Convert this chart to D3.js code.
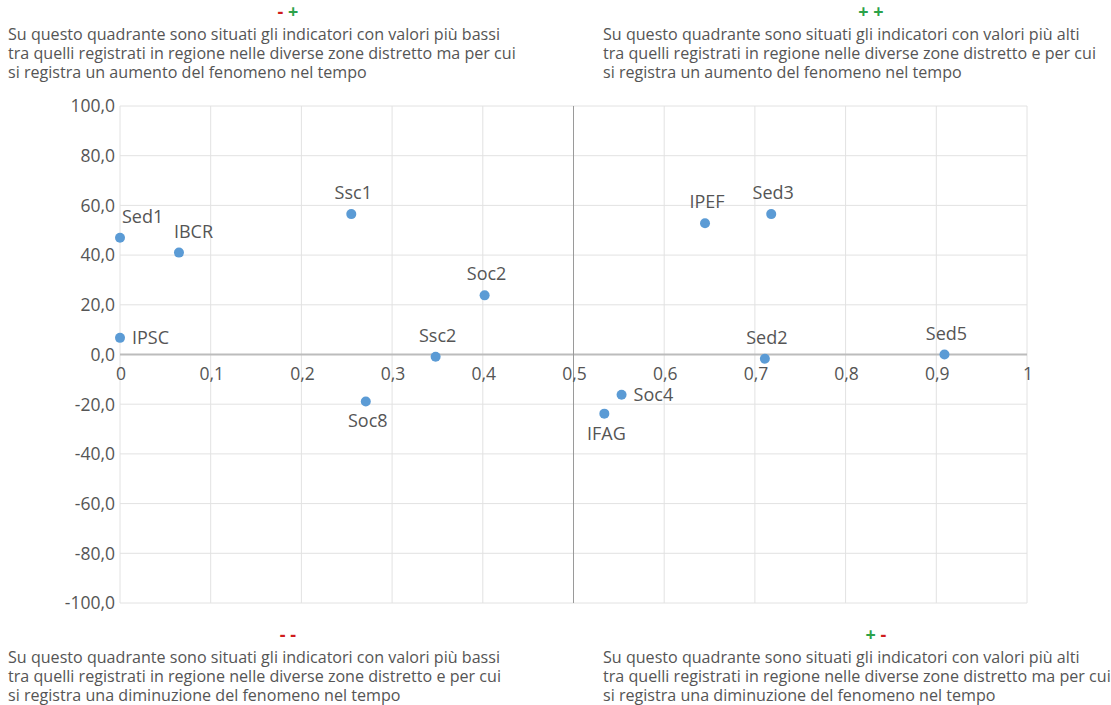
<!DOCTYPE html>
<html>
  <head>
    <meta charset="utf-8" />
    <title>quadranti indicatori</title>
    <script src="https://d3js.org/d3.v7.min.js"></script>
    <style>
      body {
        margin: 0;
        background: #fff;
      }
      svg text {
        font-family: "Open Sans", sans-serif;
        fill: #555;
      }
    </style>
  </head>
  <body>
    <script>
      // indicatori: posizione in regione (x) e variazione nel tempo (y)
      const labels = ["Sed1", "IBCR", "Ssc1", "IPSC", "Ssc2", "Soc2", "Soc8", "IPEF", "Sed3", "Sed2", "Sed5", "Soc4", "IFAG"];
      const xValues = [0, 0.065, 0.255, 0, 0.348, 0.402, 0.271, 0.645, 0.718, 0.711, 0.909, 0.553, 0.534];
      const yValues = [47.0, 41.0, 56.5, 6.7, -0.9, 23.8, -18.9, 52.8, 56.5, -1.7, 0.0, -16.2, -23.8];
      // dove mettere l'etichetta rispetto al punto
      const labelSide = ["topRight", "topStart", "top", "right", "top", "top", "bottom", "top", "top", "top", "top", "right", "bottom"];

      const xTicks = [0, 0.1, 0.2, 0.3, 0.4, 0.5, 0.6, 0.7, 0.8, 0.9, 1];
      const yTicks = [-100, -80, -60, -40, -20, 0, 20, 40, 60, 80, 100];

      // testi dei quattro quadranti
      const quadrantSigns = ["- +", "+ +", "- -", "+ -"];
      const quadrantTexts = [
        ["Su questo quadrante sono situati gli indicatori con valori più bassi",
         "tra quelli registrati in regione nelle diverse zone distretto ma per cui",
         "si registra un aumento del fenomeno nel tempo"],
        ["Su questo quadrante sono situati gli indicatori con valori più alti",
         "tra quelli registrati in regione nelle diverse zone distretto e per cui",
         "si registra un aumento del fenomeno nel tempo"],
        ["Su questo quadrante sono situati gli indicatori con valori più bassi",
         "tra quelli registrati in regione nelle diverse zone distretto e per cui",
         "si registra una diminuzione del fenomeno nel tempo"],
        ["Su questo quadrante sono situati gli indicatori con valori più alti",
         "tra quelli registrati in regione nelle diverse zone distretto ma per cui",
         "si registra una diminuzione del fenomeno nel tempo"]
      ];

      const width = 1111;
      const height = 705;
      const margin = { top: 106, right: 84, bottom: 102, left: 120 };

      const it = d3.formatLocale({ decimal: ",", thousands: ".", grouping: [3], currency: ["", "€"], minus: "-" });
      const fmtY = it.format(".1f");
      const fmtX = it.format(".1~f");

      const svg = d3.select("body")
        .append("svg")
        .attr("width", width)
        .attr("height", height);

      const x = d3.scaleLinear().domain([0, 1]).range([margin.left, width - margin.right]);
      const y = d3.scaleLinear().domain([-100, 100]).range([height - margin.bottom, margin.top]);

      // griglia
      svg.append("g")
        .selectAll("line")
        .data(xTicks)
        .join("line")
        .attr("x1", d => x(d)).attr("x2", d => x(d))
        .attr("y1", y(100)).attr("y2", y(-100))
        .attr("stroke", "#e2e2e2")
        .attr("stroke-width", 1);

      svg.append("g")
        .selectAll("line")
        .data(yTicks)
        .join("line")
        .attr("x1", x(0)).attr("x2", x(1))
        .attr("y1", d => y(d)).attr("y2", d => y(d))
        .attr("stroke", "#e2e2e2")
        .attr("stroke-width", 1);

      // asse y = 0 e linea di mezzo x = 0,5
      svg.append("line")
        .attr("x1", x(0)).attr("x2", x(1))
        .attr("y1", y(0)).attr("y2", y(0))
        .attr("stroke", "#bcbcbc")
        .attr("stroke-width", 2);

      svg.append("line")
        .attr("x1", x(0.5)).attr("x2", x(0.5))
        .attr("y1", y(100)).attr("y2", y(-100))
        .attr("stroke", "#9a9a9a")
        .attr("stroke-width", 1);

      // etichette assi
      svg.append("g")
        .selectAll("text")
        .data(yTicks)
        .join("text")
        .attr("x", x(0) - 5)
        .attr("y", d => y(d))
        .attr("dy", "0.36em")
        .attr("text-anchor", "end")
        .attr("font-size", "17.5px")
        .text(d => fmtY(d));

      svg.append("g")
        .selectAll("text")
        .data(xTicks)
        .join("text")
        .attr("x", d => x(d) + 1)
        .attr("y", y(0) + 25)
        .attr("text-anchor", "middle")
        .attr("font-size", "17.5px")
        .text(d => fmtX(d));

      // punti
      const points = labels.map((l, i) => ({ label: l, x: xValues[i], y: yValues[i], side: labelSide[i] }));

      svg.append("g")
        .selectAll("circle")
        .data(points)
        .join("circle")
        .attr("cx", d => x(d.x))
        .attr("cy", d => y(d.y))
        .attr("r", 5)
        .attr("fill", "#5b9bd5");

      svg.append("g")
        .selectAll("text")
        .data(points)
        .join("text")
        .attr("font-size", "18px")
        .attr("x", d => {
          if (d.side === "right") return x(d.x) + 12;
          if (d.side === "topStart") return x(d.x) - 5;
          if (d.side === "topRight") return x(d.x) + 2;
          return x(d.x) + 2;
        })
        .attr("y", d => {
          if (d.side === "right") return y(d.y) + 6;
          if (d.side === "bottom") return y(d.y) + 26;
          return y(d.y) - 15;
        })
        .attr("text-anchor", d => (d.side === "top" || d.side === "bottom") ? "middle" : "start")
        .text(d => d.label);

      // testi dei quadranti
      const boxX = [8, 603, 8, 603];
      const signX = [288, 871, 288, 876];
      const boxTop = [40, 40, 663, 663];

      quadrantTexts.forEach((lines, i) => {
        const sign = svg.append("text")
          .attr("x", signX[i])
          .attr("y", boxTop[i] - 22)
          .attr("text-anchor", "middle")
          .attr("font-size", "18px")
          .attr("font-weight", "bold");
        quadrantSigns[i].split("").forEach(c => {
          sign.append("tspan")
            .style("fill", c === "+" ? "#2ca24a" : "#d01c1c")
            .text(c === " " ? "\u00a0" : c);
        });

        svg.append("g")
          .selectAll("text")
          .data(lines)
          .join("text")
          .attr("x", boxX[i])
          .attr("y", (d, j) => boxTop[i] + j * 19)
          .attr("font-size", "16.1px")
          .text(d => d);
      });
    </script>
  </body>
</html>
